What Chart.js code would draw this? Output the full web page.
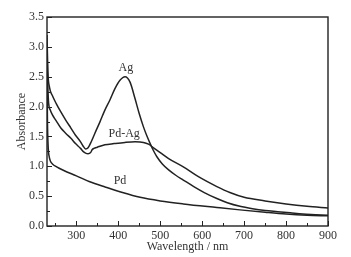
<!DOCTYPE html>
<html>
<head>
<meta charset="utf-8">
<script src="https://cdn.jsdelivr.net/npm/chart.js@4.4.0/dist/chart.umd.min.js"></script>
<style>
html, body { margin: 0; padding: 0; background: #fff; }
#wrap { width: 351px; height: 257px; }
</style>
</head>
<body>
<div id="wrap"><canvas id="uvChart"></canvas></div>
<script>
// UV-vis spectra
const agWavelength = [230, 232, 236, 243, 252, 263, 275, 287, 298, 310, 316, 322, 328, 336, 344, 356, 368, 380, 392, 404, 416, 428, 440, 450, 460, 468, 476, 484, 492, 505, 520, 537, 555, 580, 605, 635, 660, 690, 720, 750, 780, 810, 840, 870, 900];
const agAbsorbance = [3.2, 2.6, 2.32, 2.18, 2.05, 1.91, 1.77, 1.64, 1.52, 1.41, 1.34, 1.29, 1.31, 1.42, 1.55, 1.74, 1.94, 2.11, 2.30, 2.44, 2.50, 2.41, 2.13, 1.88, 1.66, 1.51, 1.38, 1.26, 1.16, 1.04, 0.94, 0.85, 0.77, 0.66, 0.56, 0.46, 0.39, 0.33, 0.29, 0.26, 0.24, 0.22, 0.20, 0.19, 0.18];

const pdagWavelength = [230, 232, 234, 238, 243, 252, 263, 275, 287, 298, 310, 316, 322, 328, 334, 338, 342, 350, 368, 390, 416, 440, 460, 472, 484, 500, 520, 555, 590, 635, 666, 700, 750, 800, 850, 900];
const pdagAbsorbance = [3.0, 2.35, 2.05, 1.94, 1.86, 1.76, 1.64, 1.55, 1.47, 1.38, 1.30, 1.25, 1.22, 1.21, 1.23, 1.28, 1.30, 1.32, 1.36, 1.38, 1.40, 1.41, 1.40, 1.37, 1.31, 1.23, 1.13, 0.99, 0.83, 0.66, 0.56, 0.48, 0.42, 0.37, 0.33, 0.30];

const pdWavelength = [230, 231, 233, 235, 238, 243, 253, 270, 300, 332, 370, 410, 452, 500, 555, 635, 690, 750, 800, 850, 900];
const pdAbsorbance = [2.6, 1.8, 1.3, 1.17, 1.09, 1.04, 0.99, 0.93, 0.84, 0.74, 0.65, 0.56, 0.48, 0.42, 0.37, 0.31, 0.27, 0.23, 0.20, 0.18, 0.17];

const xTicks = [300, 400, 500, 600, 700, 800, 900];
const xMinorTicks = [250, 350, 450, 550, 650, 750, 850];
const yTicks = [0, 0.5, 1.0, 1.5, 2.0, 2.5, 3.0, 3.5];
const yMinorTicks = [0.25, 0.75, 1.25, 1.75, 2.25, 2.75, 3.25];

// curve names written next to each curve (data coords)
const curveLabels = [
    { text: "Ag", x: 418, y: 2.65 },
    { text: "Pd-Ag", x: 414, y: 1.54 },
    { text: "Pd", x: 404, y: 0.75 }
];

const ink = "#222";
const serif = "'Liberation Serif', serif";

function toPoints(xs, ys) {
    return xs.map((v, i) => ({ x: v, y: ys[i] }));
}

function lineSet(label, xs, ys) {
    return {
        label: label,
        data: toPoints(xs, ys),
        borderColor: ink,
        borderWidth: 1.5,
        pointRadius: 0,
        fill: false,
        cubicInterpolationMode: "monotone"
    };
}

const frameAndTicks = {
    id: "frameAndTicks",
    afterDatasetsDraw(chart) {
        const { ctx, chartArea: a, scales: { x, y } } = chart;
        ctx.save();
        ctx.strokeStyle = ink;
        ctx.lineWidth = 1;
        ctx.beginPath();
        xTicks.forEach(v => { const p = Math.round(x.getPixelForValue(v)) + 0.5; ctx.moveTo(p, a.bottom); ctx.lineTo(p, a.bottom - 5); });
        xMinorTicks.forEach(v => { const p = Math.round(x.getPixelForValue(v)) + 0.5; ctx.moveTo(p, a.bottom); ctx.lineTo(p, a.bottom - 3); });
        yTicks.forEach(v => { const p = Math.round(y.getPixelForValue(v)) + 0.5; ctx.moveTo(a.left, p); ctx.lineTo(a.left + 5, p); });
        yMinorTicks.forEach(v => { const p = Math.round(y.getPixelForValue(v)) + 0.5; ctx.moveTo(a.left, p); ctx.lineTo(a.left + 3, p); });
        ctx.stroke();
        ctx.lineWidth = 1.4;
        ctx.strokeRect(a.left, a.top, a.right - a.left, a.bottom - a.top);

        ctx.font = "12px " + serif;
        ctx.fillStyle = "#333";
        ctx.textAlign = "center";
        ctx.textBaseline = "middle";
        curveLabels.forEach(l => {
            ctx.fillText(l.text, x.getPixelForValue(l.x), y.getPixelForValue(l.y));
        });
        ctx.restore();
    }
};

new Chart(document.getElementById("uvChart"), {
    type: "line",
    data: {
        datasets: [
            lineSet("Ag", agWavelength, agAbsorbance),
            lineSet("Pd-Ag", pdagWavelength, pdagAbsorbance),
            lineSet("Pd", pdWavelength, pdAbsorbance)
        ]
    },
    options: {
        responsive: true,
        maintainAspectRatio: false,
        animation: false,
        layout: { padding: { left: 15, right: 23, top: 17, bottom: 3 } },
        plugins: {
            legend: { display: false },
            tooltip: { enabled: false }
        },
        scales: {
            x: {
                type: "linear",
                min: 230,
                max: 900,
                grid: { display: false, drawTicks: false },
                border: { display: false },
                afterBuildTicks: (scale) => { scale.ticks = xTicks.map(v => ({ value: v })); },
                afterFit: (scale) => { scale.height = 28; },
                ticks: { padding: 3, maxRotation: 0, color: "#333", font: { family: serif, size: 12 } },
                title: { display: true, text: "Wavelength / nm", color: "#333", padding: 0, font: { family: serif, size: 12 } }
            },
            y: {
                min: 0,
                max: 3.5,
                grid: { display: false, drawTicks: false },
                border: { display: false },
                afterBuildTicks: (scale) => { scale.ticks = yTicks.map(v => ({ value: v })); },
                afterFit: (scale) => { scale.width = 32; },
                ticks: { padding: 3, color: "#333", font: { family: serif, size: 12 }, callback: (v) => Number(v).toFixed(1) },
                title: { display: true, text: "Absorbance", color: "#333", padding: 0, font: { family: serif, size: 12 } }
            }
        }
    },
    plugins: [frameAndTicks]
});
</script>
</body>
</html>
